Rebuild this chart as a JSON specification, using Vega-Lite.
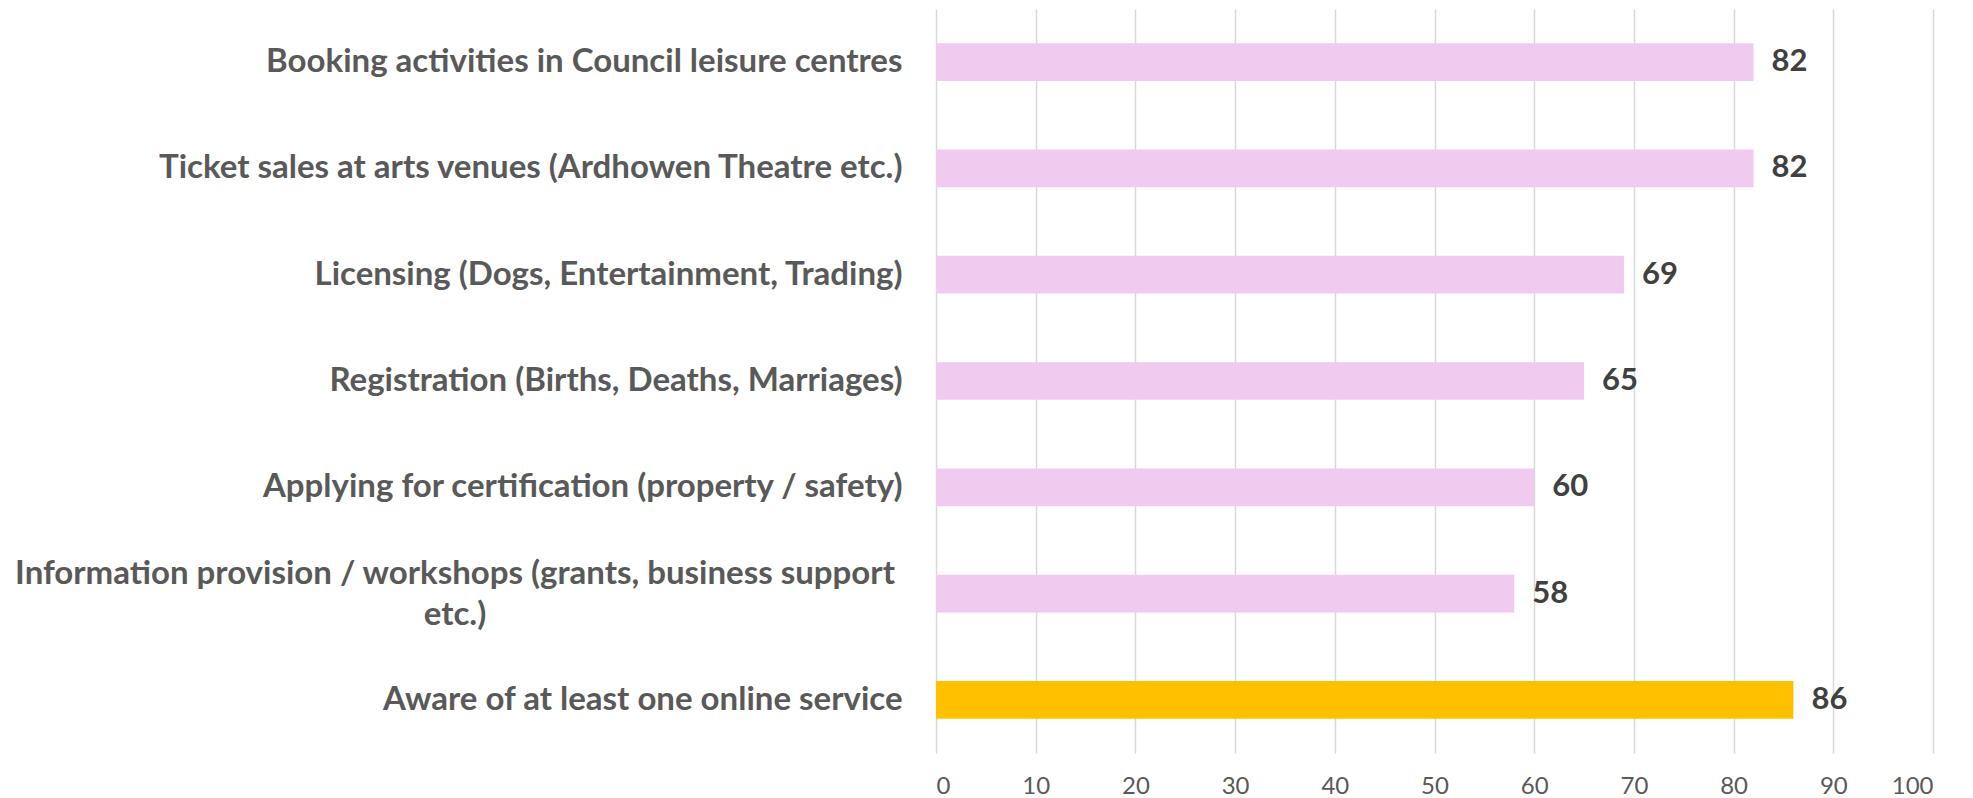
{
  "$schema": "https://vega.github.io/schema/vega-lite/v6.json",
  "width": 997,
  "height": 744,
  "autosize": "none",
  "padding": {"left": 936, "top": 9, "right": 40, "bottom": 45},
  "background": "white",
  "config": {"view": {"stroke": null}, "font": "Lato"},
  "data": {
    "values": [
      {"label": "Booking activities in Council leisure centres", "value": 82, "kind": "service"},
      {"label": "Ticket sales at arts venues (Ardhowen Theatre etc.)", "value": 82, "kind": "service"},
      {"label": "Licensing (Dogs, Entertainment, Trading)", "value": 69, "kind": "service"},
      {"label": "Registration (Births, Deaths, Marriages)", "value": 65, "kind": "service"},
      {"label": "Applying for certification (property / safety)", "value": 60, "kind": "service"},
      {"label": "Information provision / workshops (grants, business support\netc.)", "value": 58, "kind": "service"},
      {"label": "Aware of at least one online service", "value": 86, "kind": "aware"}
    ]
  },
  "encoding": {
    "y": {
      "field": "label",
      "type": "nominal",
      "sort": null,
      "scale": {"paddingInner": 0.645, "paddingOuter": 0.3225},
      "axis": {
        "title": null,
        "domain": false,
        "ticks": false,
        "labelFont": "Lato",
        "labelFontWeight": "bold",
        "labelFontSize": 33,
        "labelColor": "#595959",
        "labelPadding": 34,
        "labelLimit": 1200,
        "labelExpr": "indexof(datum.label, 'workshops') >= 0 ? '' : datum.label"
      }
    }
  },
  "layer": [
    {
      "mark": {"type": "bar"},
      "encoding": {
        "x": {
          "field": "value",
          "type": "quantitative",
          "scale": {"domain": [0, 100], "nice": false},
          "axis": {
            "title": null,
            "values": [0, 10, 20, 30, 40, 50, 60, 70, 80, 90, 100],
            "domain": false,
            "ticks": false,
            "grid": true,
            "gridColor": "#d9d9d9",
            "gridWidth": 1.5,
            "labelFont": "Lato",
            "labelFontSize": 24,
            "labelColor": "#595959",
            "labelPadding": 21
          }
        },
        "color": {
          "field": "kind",
          "type": "nominal",
          "scale": {"domain": ["service", "aware"], "range": ["#F0CBEF", "#FFC000"]},
          "legend": null
        }
      }
    },
    {
      "mark": {"type": "text", "align": "left", "baseline": "middle", "dx": 18, "font": "Lato", "fontWeight": "bold", "fontSize": 31, "color": "#404040"},
      "encoding": {
        "x": {"field": "value", "type": "quantitative"},
        "text": {"field": "value", "type": "quantitative"}
      }
    },
    {
      "transform": [{"filter": "indexof(datum.label, 'workshops') >= 0"}],
      "mark": {"type": "text", "align": "center", "baseline": "middle", "dx": -481, "dy": -20, "lineBreak": "\n", "lineHeight": 41, "font": "Lato", "fontWeight": "bold", "fontSize": 33, "color": "#595959"},
      "encoding": {
        "x": {"datum": 0, "type": "quantitative"},
        "text": {"field": "label", "type": "nominal"}
      }
    }
  ]
}
